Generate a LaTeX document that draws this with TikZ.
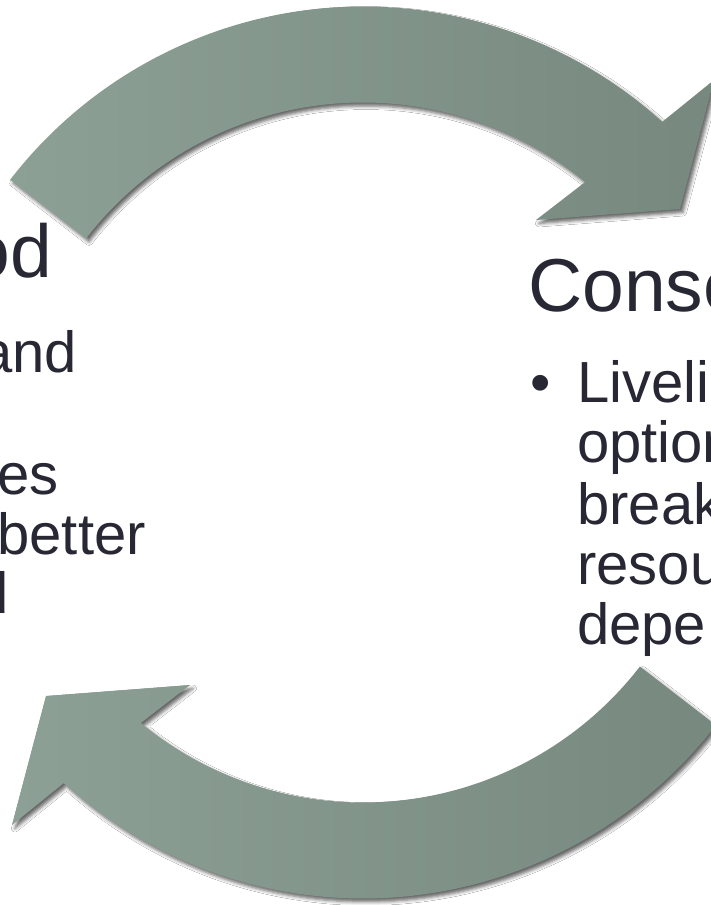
\documentclass[tikz,border=0pt]{standalone}
\usepackage{fontspec}
\setmainfont{Liberation Sans}
\usetikzlibrary{shadows.blur,calc}
\definecolor{arrowlight}{RGB}{141,160,150}
\definecolor{arrowdark}{RGB}{119,137,126}
\definecolor{txt}{RGB}{40,40,52}
\tikzset{
  cyclearrow/.style={left color=arrowlight, right color=arrowdark, draw=none,
    blur shadow={shadow xshift=3pt, shadow yshift=-3.5pt, shadow blur radius=3.5pt, shadow opacity=60}},
  titletext/.style={inner sep=0pt, text=txt, font=\fontsize{75}{80}\selectfont},
  bodytext/.style={inner sep=0pt, text=txt, font=\fontsize{58}{60}\selectfont},
}
\begin{document}
\begin{tikzpicture}[x=1pt,y=1pt]
\useasboundingbox (0,0) rectangle (711,905);
\fill[white] (0,0) rectangle (711,905);
\clip (0,0) rectangle (711,905);
\coordinate (C) at (363,452.5);

% top arrow (clockwise, left to right)
\path[cyclearrow] ($(C)+(142.3:446)$) arc[start angle=142.3, end angle=47.85, radius=446]
  -- (714,825) -- (680,696) -- (536,685)
  -- ($(C)+(50.6:350)$) arc[start angle=50.6, end angle=142.3, radius=350] -- cycle;

% bottom arrow (clockwise, right to left)
\path[cyclearrow] ($(C)+(322.3:446)$) arc[start angle=322.3, end angle=227.85, radius=446]
  -- (12,80) -- (46,209) -- (190,220)
  -- ($(C)+(230.6:350)$) arc[start angle=230.6, end angle=322.3, radius=350] -- cycle;

% left text
\node[titletext, anchor=base east] (ttlL) at (52,627) {od};
\node[bodytext, anchor=base east] (l1) at (77,532) {and};
\node[bodytext, anchor=base east] (l2) at (59,410) {es};
\node[bodytext, anchor=base east] (l3) at (146,350) {better};
\node[bodytext, anchor=base east] (l4) at (9,291) {d};

% right text
\node[titletext, anchor=base west] (ttlR) at (528,593) {Conse};
\node[bodytext, anchor=base west] (blt) at (530,502) {•};
\node[bodytext, anchor=base west] (r1) at (577,502) {Liveli};
\node[bodytext, anchor=base west] (r2) at (577,442) {option};
\node[bodytext, anchor=base west] (r3) at (577,380) {break};
\node[bodytext, anchor=base west] (r4) at (577,320) {resou};
\node[bodytext, anchor=base west] (r5) at (577,260) {depe};
\end{tikzpicture}
\end{document}
